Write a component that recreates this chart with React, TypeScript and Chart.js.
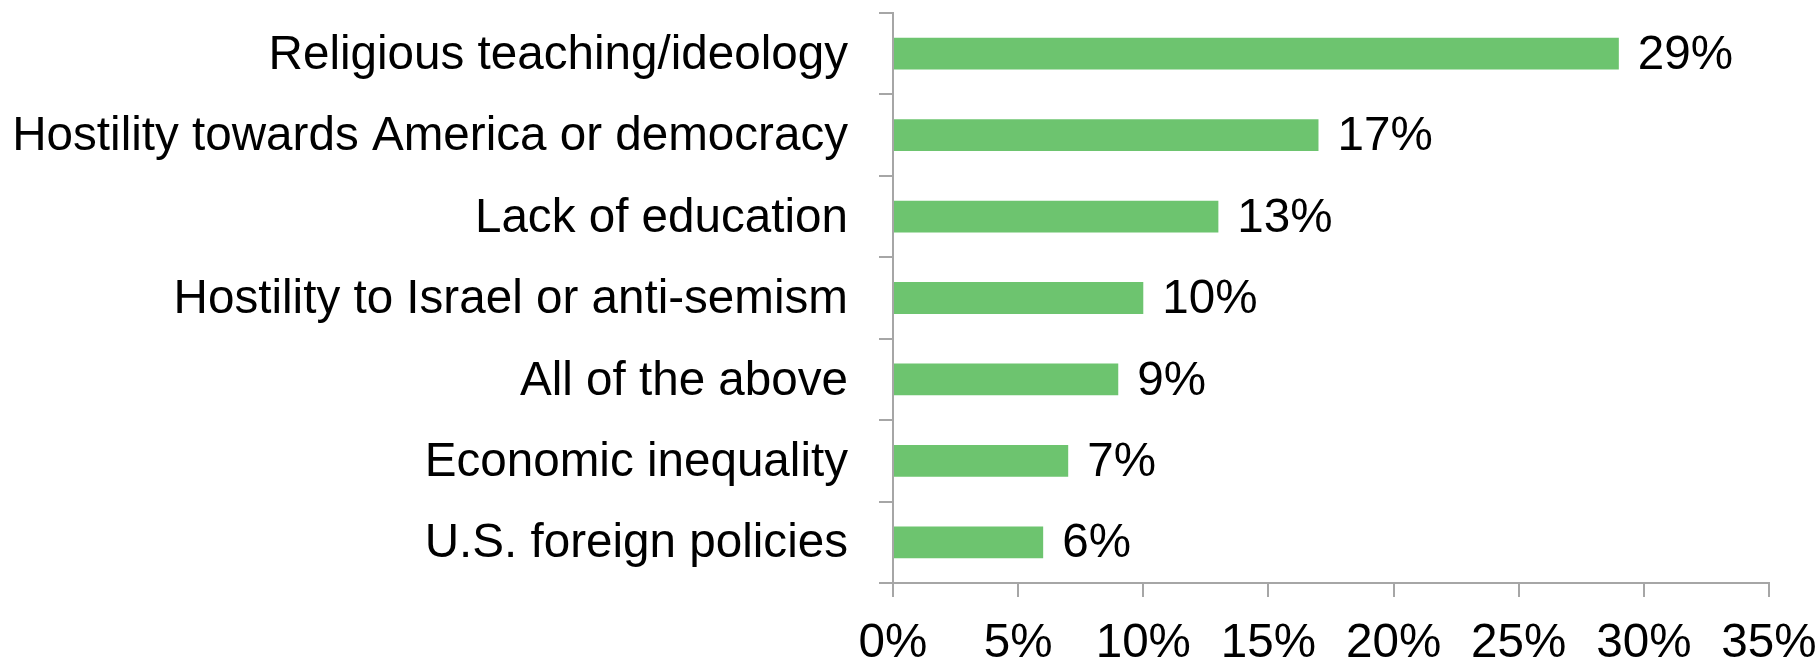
import React, { useEffect, useRef } from 'react';
import { Chart, registerables } from 'chart.js';

Chart.register(...registerables);

const categories = [
  'Religious teaching/ideology',
  'Hostility towards America or democracy',
  'Lack of education',
  'Hostility to Israel or anti-semism',
  'All of the above',
  'Economic inequality',
  'U.S. foreign policies',
];
const values = [29, 17, 13, 10, 9, 7, 6];
const xMin = 0;
const xMax = 35;
const xStep = 5;

const FONT = "'Liberation Sans', Arial, Helvetica, sans-serif";
const FONT_SIZE = 47.6;
const AXIS_GRAY = '#a6a6a6';
const BAR_GREEN = '#6dc46f';

const valueLabels = {
  id: 'valueLabels',
  afterDatasetsDraw(chart: any) {
    const ctx = chart.ctx;
    const meta = chart.getDatasetMeta(0);
    ctx.save();
    ctx.font = `${FONT_SIZE}px ${FONT}`;
    ctx.fillStyle = '#000';
    ctx.textAlign = 'left';
    ctx.textBaseline = 'middle';
    meta.data.forEach((bar: any, i: number) => {
      ctx.fillText(`${values[i]}%`, bar.x + 19, bar.y + 2);
    });
    ctx.restore();
  },
};

const shifted = new WeakSet<object>();
const shiftYLabels = {
  id: 'shiftYLabels',
  beforeDraw(chart: any) {
    const s = chart.scales.y;
    const items = s.getLabelItems();
    if (shifted.has(items)) return;
    shifted.add(items);
    items.forEach((it: any) => {
      it.options.translation[1] += 2;
    });
  },
};

export default function App() {
  const ref = useRef<HTMLCanvasElement | null>(null);
  useEffect(() => {
    if (!ref.current) return;
    const chart = new Chart(ref.current, {
      type: 'bar',
      data: {
        labels: categories,
        datasets: [
          {
            data: values,
            backgroundColor: BAR_GREEN,
            borderWidth: 0,
            barPercentage: 0.39,
            categoryPercentage: 1,
          },
        ],
      },
      options: {
        indexAxis: 'y',
        animation: false,
        responsive: false,
        maintainAspectRatio: false,
        devicePixelRatio: 1,
        layout: { padding: { top: 13, right: 51, bottom: 0, left: 0 } },
        plugins: {
          legend: { display: false },
          tooltip: { enabled: false },
        },
        scales: {
          x: {
            type: 'linear',
            min: xMin,
            max: xMax,
            ticks: {
              stepSize: xStep,
              color: '#000',
              padding: 23,
              font: { family: FONT, size: FONT_SIZE, lineHeight: 1 },
              callback: (v: any) => `${v}%`,
              maxRotation: 0,
            },
            grid: {
              drawOnChartArea: false,
              drawTicks: true,
              tickLength: 14,
              color: AXIS_GRAY,
              lineWidth: 2,
            },
            border: { color: AXIS_GRAY, width: 2 },
            afterFit: (scale: any) => {
              scale.height = 82;
              scale.paddingLeft = 0;
              scale.paddingRight = 0;
            },
          },
          y: {
            ticks: {
              color: '#000',
              padding: 31,
              font: { family: FONT, size: FONT_SIZE, lineHeight: 1 },
            },
            grid: {
              drawOnChartArea: false,
              drawTicks: true,
              tickLength: 14,
              color: AXIS_GRAY,
              lineWidth: 2,
            },
            border: { color: AXIS_GRAY, width: 2 },
            afterFit: (scale: any) => {
              scale.width = 893;
              scale.paddingTop = 0;
              scale.paddingBottom = 0;
            },
          },
        },
      },
      plugins: [valueLabels, shiftYLabels],
    });
    return () => chart.destroy();
  }, []);

  return (
    <div style={{ position: 'absolute', left: 0, top: 0, width: 1820, height: 665, background: '#fff' }}>
      <canvas ref={ref} width={1820} height={665} style={{ display: 'block' }} />
    </div>
  );
}
